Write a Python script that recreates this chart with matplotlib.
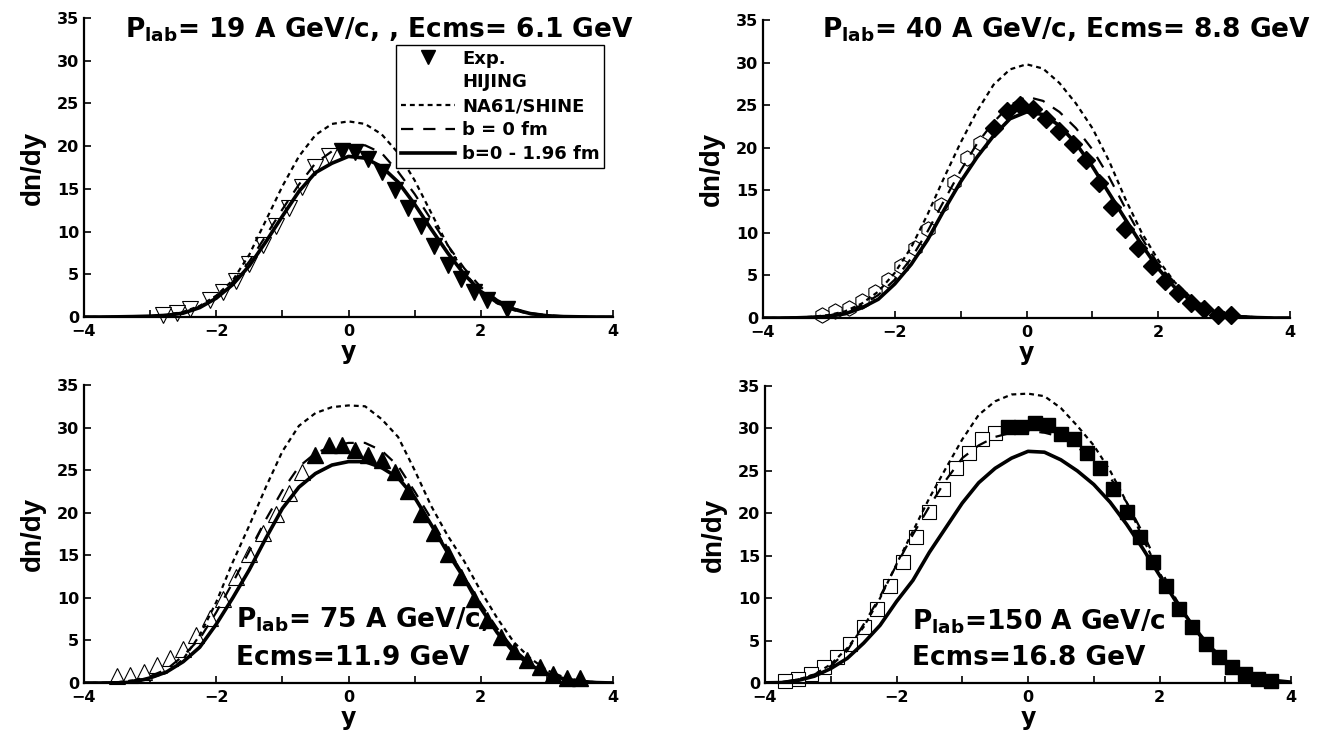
import matplotlib
matplotlib.use("Agg")
import matplotlib.pyplot as plt
from matplotlib.lines import Line2D

plt.rcParams["font.family"] = ["DejaVu Sans"]
plt.rcParams["font.weight"] = "bold"
plt.rcParams["mathtext.fontset"] = "custom"
plt.rcParams["mathtext.rm"] = "DejaVu Sans"

# rapidity grid shared by all model curves
Y_GRID = [-4.0, -3.75, -3.5, -3.25, -3.0, -2.75, -2.5, -2.25, -2.0, -1.75, -1.5, -1.25, -1.0,
          -0.75, -0.5, -0.25, 0.0, 0.25, 0.5, 0.75, 1.0, 1.25, 1.5, 1.75, 2.0, 2.25, 2.5, 2.75,
          3.0, 3.25, 3.5, 3.75, 4.0]

# --- 19 A GeV/c
P19_NA61 = [0, 0, 0, 0.05, 0.1, 0.25, 0.6, 1.3, 2.5, 4.3, 7.3, 11.3, 15.3, 18.8, 21.3, 22.6, 22.9,
            22.6, 21.4, 19.2, 16.0, 12.2, 8.4, 5.2, 3.0, 1.6, 0.8, 0.35, 0.15, 0.05, 0, 0, 0]
P19_B0 = [0, 0, 0, 0.05, 0.1, 0.25, 0.5, 1.2, 2.4, 4.1, 6.5, 9.5, 12.6, 15.5, 18.0, 19.4, 20.0,
          20.1, 19.2, 17.0, 14.4, 11.4, 8.4, 5.7, 3.5, 2.0, 1.0, 0.45, 0.2, 0.08, 0, 0, 0]
P19_BR = [0, 0, 0.02, 0.05, 0.1, 0.2, 0.45, 1.1, 2.2, 3.8, 6.0, 8.8, 11.8, 14.7, 16.9, 18.0, 18.8,
          18.6, 17.6, 15.8, 13.2, 10.3, 7.5, 5.0, 3.0, 1.7, 0.9, 0.4, 0.15, 0.05, 0.02, 0, 0]
P19_EXP_X = [-0.1, 0.1, 0.3, 0.5, 0.7, 0.9, 1.1, 1.3, 1.5, 1.7, 1.9, 2.1, 2.4]
P19_EXP_Y = [19.4, 19.3, 18.5, 17.0, 14.9, 12.8, 10.6, 8.3, 6.1, 4.4, 2.9, 2.0, 0.9]
P19_REF_X = [-0.3, -0.5, -0.7, -0.9, -1.1, -1.3, -1.5, -1.7, -1.9, -2.1, -2.4, -2.6, -2.8]
P19_REF_Y = [18.9, 17.6, 15.2, 12.8, 10.6, 8.4, 6.2, 4.2, 2.9, 2.0, 0.9, 0.5, 0.2]

# --- 40 A GeV/c
P40_NA61 = [0, 0, 0.05, 0.15, 0.35, 0.8, 1.7, 3.1, 5.3, 8.3, 12.2, 16.5, 20.6, 24.3, 27.4, 29.2, 29.8,
            29.3, 27.6, 25.2, 22.3, 18.5, 14.0, 10.0, 6.8, 4.2, 2.4, 1.2, 0.5, 0.2, 0.08, 0, 0]
P40_B0 = [0, 0, 0.03, 0.12, 0.3, 0.7, 1.5, 2.7, 4.5, 7.0, 10.2, 13.8, 17.3, 20.5, 23.0, 25.0, 26.0,
          25.5, 24.2, 22.3, 19.8, 16.6, 12.9, 9.4, 6.3, 3.9, 2.2, 1.1, 0.5, 0.2, 0.05, 0, 0]
P40_BR = [0, 0, 0.02, 0.08, 0.2, 0.5, 1.2, 2.2, 4.0, 6.3, 9.2, 12.7, 16.0, 18.9, 21.4, 23.4, 24.2,
          23.9, 22.6, 20.5, 17.8, 14.7, 11.6, 8.6, 5.8, 3.6, 2.0, 1.0, 0.45, 0.15, 0.05, 0, 0]
P40_EXP_X = [-0.5, -0.3, -0.1, 0.1, 0.3, 0.5, 0.7, 0.9, 1.1, 1.3, 1.5, 1.7, 1.9, 2.1, 2.3, 2.5, 2.7,
             2.9, 3.1]
P40_EXP_Y = [22.3, 24.3, 25.0, 24.6, 23.4, 22.0, 20.4, 18.5, 15.8, 13.0, 10.4, 8.2, 6.1, 4.3, 2.9,
             1.8, 1.0, 0.4, 0.3]
P40_REF_X = [-0.7, -0.9, -1.1, -1.3, -1.5, -1.7, -1.9, -2.1, -2.3, -2.5, -2.7, -2.9, -3.1]
P40_REF_Y = [20.5, 18.8, 16.0, 13.3, 10.4, 8.2, 6.1, 4.5, 3.1, 2.0, 1.2, 0.8, 0.4]

# --- 75 A GeV/c
P75_NA61 = [0, 0.02, 0.1, 0.3, 0.6, 1.2, 2.8, 5.6, 9.5, 14.2, 18.5, 23.0, 27.2, 30.2, 31.7, 32.4, 32.6,
            32.5, 31.0, 28.9, 25.0, 20.8, 17.3, 14.3, 10.8, 7.6, 4.8, 2.9, 1.5, 0.7, 0.25, 0.08, 0]
P75_B0 = [0, 0.02, 0.05, 0.3, 0.8, 1.6, 3.2, 5.2, 8.3, 11.8, 15.5, 19.2, 22.6, 25.4, 27.0, 27.8, 28.2,
          28.2, 27.3, 25.5, 22.5, 19.3, 15.8, 12.5, 9.3, 6.4, 4.0, 2.3, 1.2, 0.5, 0.2, 0.05, 0]
P75_BR = [0, 0, 0.02, 0.1, 0.6, 1.3, 2.5, 4.2, 6.9, 10.0, 13.3, 17.0, 20.5, 23.0, 24.6, 25.6, 26.0,
          26.0, 25.3, 24.1, 21.8, 18.6, 15.3, 12.3, 8.8, 5.9, 3.6, 2.1, 1.1, 0.5, 0.2, 0.05, 0]
P75_EXP_X = [-0.5, -0.3, -0.1, 0.1, 0.3, 0.5, 0.7, 0.9, 1.1, 1.3, 1.5, 1.7, 1.9, 2.1, 2.3, 2.5, 2.7,
             2.9, 3.1, 3.3, 3.5]
P75_EXP_Y = [26.8, 28.0, 28.0, 27.4, 26.8, 26.2, 24.8, 22.5, 19.9, 17.6, 15.2, 12.5, 9.9, 7.4, 5.4,
             3.8, 2.7, 1.9, 1.1, 0.6, 0.6]
P75_REF_X = [-0.7, -0.9, -1.1, -1.3, -1.5, -1.7, -1.9, -2.1, -2.3, -2.5, -2.7, -2.9, -3.1, -3.3, -3.5]
P75_REF_Y = [24.8, 22.3, 19.9, 17.6, 15.2, 12.5, 9.9, 7.6, 5.6, 4.0, 2.9, 2.1, 1.3, 0.9, 0.8]

# --- 150 A GeV/c
P150_NA61 = [0.05, 0.1, 0.4, 1.0, 2.2, 4.1, 6.6, 10.0, 14.0, 17.9, 21.8, 25.3, 28.7, 31.6, 33.2, 34.0,
             34.1, 33.8, 32.4, 30.3, 28.0, 25.0, 21.3, 17.0, 13.0, 9.6, 6.6, 4.2, 2.4, 1.3, 0.6, 0.25, 0.1]
P150_B0 = [0.05, 0.1, 0.4, 1.0, 2.0, 3.8, 6.9, 10.2, 13.9, 17.5, 20.8, 23.9, 26.5, 28.0, 29.0, 29.5,
           29.7, 29.5, 29.0, 27.8, 26.3, 24.2, 21.3, 17.6, 13.6, 9.9, 6.8, 4.3, 2.5, 1.3, 0.6, 0.25, 0.1]
P150_BR = [0.02, 0.05, 0.3, 0.8, 1.7, 2.9, 4.7, 6.8, 9.6, 12.1, 15.4, 18.3, 21.2, 23.6, 25.3, 26.5,
           27.3, 27.2, 26.3, 25.0, 23.4, 21.3, 18.7, 15.8, 12.7, 9.6, 6.8, 4.4, 2.6, 1.4, 0.7, 0.3, 0.1]
P150_EXP_X = [-0.3, -0.1, 0.1, 0.3, 0.5, 0.7, 0.9, 1.1, 1.3, 1.5, 1.7, 1.9, 2.1, 2.3, 2.5, 2.7, 2.9,
              3.1, 3.3, 3.5, 3.7]
P150_EXP_Y = [30.2, 30.2, 30.6, 30.4, 29.4, 28.8, 27.1, 25.3, 22.9, 20.2, 17.2, 14.3, 11.4, 8.7, 6.6,
              4.6, 3.1, 1.9, 1.1, 0.5, 0.2]
P150_REF_X = [-0.5, -0.7, -0.9, -1.1, -1.3, -1.5, -1.7, -1.9, -2.1, -2.3, -2.5, -2.7, -2.9, -3.1,
              -3.3, -3.5, -3.7]
P150_REF_Y = [29.5, 28.8, 27.1, 25.3, 22.9, 20.2, 17.2, 14.3, 11.4, 8.7, 6.6, 4.6, 3.1, 1.9, 1.1,
              0.5, 0.2]

W, H = 1318, 737
NA61_STYLE = dict(color="black", lw=1.6, ls=(0, (2.2, 1.8)))
B0_STYLE = dict(color="black", lw=1.6, ls=(0, (5.5, 4.5)))
BR_STYLE = dict(color="black", lw=2.6, ls="-")

# (axes box in px: left, top, right, bottom), curves, exp, reflected, filled/open markers, size
panels = [
    ((84, 18, 613, 317), (P19_NA61, P19_B0, P19_BR), (P19_EXP_X, P19_EXP_Y),
     (P19_REF_X, P19_REF_Y), ("v", "v"), 11),
    ((763, 20, 1290, 318), (P40_NA61, P40_B0, P40_BR), (P40_EXP_X, P40_EXP_Y),
     (P40_REF_X, P40_REF_Y), ("D", "h"), 9),
    ((84, 385, 613, 683), (P75_NA61, P75_B0, P75_BR), (P75_EXP_X, P75_EXP_Y),
     (P75_REF_X, P75_REF_Y), ("^", "^"), 11),
    ((765, 386, 1291, 683), (P150_NA61, P150_B0, P150_BR), (P150_EXP_X, P150_EXP_Y),
     (P150_REF_X, P150_REF_Y), ("s", "s"), 10.5),
]

fig = plt.figure(figsize=(W / 100, H / 100), dpi=100)

for (l, t, r, b), curves, exp, ref, (mk, mk_open), ms in panels:
    ax = fig.add_axes([l / W, 1 - b / H, (r - l) / W, (b - t) / H])
    ax.plot(ref[0], ref[1], ls="none", marker=mk_open, ms=ms + (2 if mk_open == "h" else 0),
            mfc="white", mec="black", mew=0.8, clip_on=False, zorder=2)
    ax.plot(exp[0], exp[1], ls="none", marker=mk, ms=ms, mfc="black", mec="black",
            clip_on=False, zorder=2)
    ax.plot(Y_GRID, curves[0], **NA61_STYLE, zorder=3)
    ax.plot(Y_GRID, curves[1], **B0_STYLE, zorder=3)
    ax.plot(Y_GRID, curves[2], **BR_STYLE, zorder=3)
    ax.set_xlim(-4, 4)
    ax.set_ylim(0, 35)
    ax.set_xticks([-4, -2, 0, 2, 4])
    ax.set_xticks([-3, -1, 1, 3], minor=True)
    ax.set_yticks(range(0, 36, 5))
    ax.tick_params(which="both", direction="in", length=5, width=1.2, labelsize=11.5)
    ax.tick_params(axis="x", pad=5)
    for s in ("top", "right"):
        ax.spines[s].set_visible(False)
    for s in ("left", "bottom"):
        ax.spines[s].set_linewidth(1.6)
    ax.set_xlabel("y", fontsize=17, fontweight="bold", labelpad=1)
    ax.set_ylabel("dn/dy", fontsize=20, fontweight="bold", labelpad=8,
                  family=["Liberation Sans Narrow", "Liberation Sans"])


def put(x, y, s, **kw):
    fig.text(x / W, 1 - y / H, s, ha="left", va="center", fontsize=19, fontweight="bold", **kw)


put(125, 30, r"P$_{\rm lab}$= 19 A GeV/c, , Ecms= 6.1 GeV")
put(822, 30, r"P$_{\rm lab}$= 40 A GeV/c, Ecms= 8.8 GeV")
put(236, 620, r"P$_{\rm lab}$= 75 A GeV/c,")
put(236, 658, "Ecms=11.9 GeV")
put(912, 622, r"P$_{\rm lab}$=150 A GeV/c")
put(912, 658, "Ecms=16.8 GeV")

handles = [
    Line2D([], [], ls="none", marker="v", ms=10, color="black"),
    Line2D([], [], ls="none"),
    Line2D([], [], **NA61_STYLE),
    Line2D([], [], **B0_STYLE),
    Line2D([], [], **BR_STYLE),
]
labels = ["Exp.", "HIJING", "NA61/SHINE", "b = 0 fm", "b=0 - 1.96 fm"]
leg = fig.legend(handles, labels, loc="upper left", bbox_to_anchor=(396 / W, 1 - 45 / H),
                 frameon=True, fancybox=False, edgecolor="black", framealpha=1,
                 prop={"weight": "bold", "size": 13}, handlelength=3.0, handletextpad=0.4,
                 labelspacing=0.33, borderpad=0.25, borderaxespad=0)
leg.get_frame().set_linewidth(1.0)

fig.savefig("out.png", dpi=100, facecolor="white")
